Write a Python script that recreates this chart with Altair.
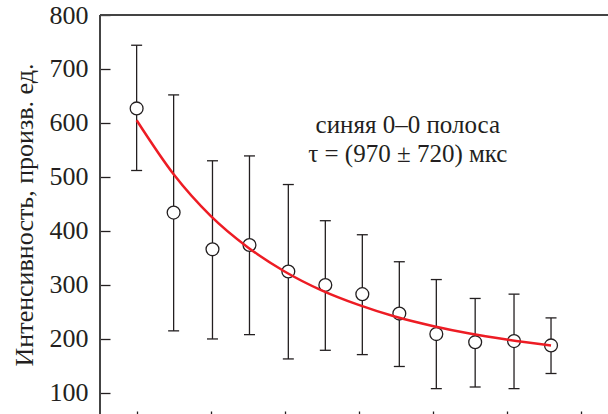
import altair as alt
import pandas as pd

# data
x_vals = [0, 100, 205, 305, 410, 510, 610, 710, 810, 915, 1020, 1120]
y_vals = [627, 434, 366, 374, 325, 300, 283, 247, 209, 194, 196, 188]
y_hi = [744, 652, 530, 539, 486, 419, 393, 343, 310, 275, 283, 239]
y_lo = [512, 215, 200, 208, 163, 179, 171, 149, 108, 111, 108, 136]

fit_t = [0, 100, 200, 300, 400, 500, 600, 700, 800, 900, 1000, 1120]
fit_v = [605, 505, 428, 370, 325, 290, 263, 241, 224, 210, 199, 188]

y_ticks = [100, 200, 300, 400, 500, 600, 700, 800]
x_ticks = [0, 200, 400, 600, 800, 1000, 1200]

note_lines = ["синяя 0–0 полоса", "τ = (970 ± 720) мкс"]
note_x = [733, 733]
note_y = [581, 528]

FONT = "Liberation Serif"
INK = "#231f20"

pts = pd.DataFrame({"x": x_vals, "y": y_vals, "lo": y_lo, "hi": y_hi})
caps = pd.DataFrame({"x": x_vals + x_vals, "y": y_lo + y_hi})
fit = pd.DataFrame({"x": fit_t, "y": fit_v})
notes = pd.DataFrame({"x": note_x, "y": note_y, "label": note_lines})

W, H = 508, 399

xs = alt.Scale(domain=[-99, 1274], nice=False, zero=False)
ys = alt.Scale(domain=[61, 800], nice=False, zero=False)

x_axis = alt.Axis(values=x_ticks, offset=-3, domain=False, labels=False,
                  tickSize=10, tickWidth=1.3, tickColor=INK, grid=False, title=None)
y_axis = alt.Axis(values=y_ticks, offset=-10, domain=False, tickSize=10,
                  tickWidth=1.3, tickColor=INK, grid=False,
                  labelFont=FONT, labelFontSize=26, labelColor=INK, labelPadding=12,
                  title="Интенсивность, произв. ед.", titleFont=FONT,
                  titleFontSize=26, titleFontWeight="normal", titleColor=INK,
                  titlePadding=12)


def X(field="x"):
    return alt.X(f"{field}:Q", scale=xs, axis=x_axis)


def Y(field="y"):
    return alt.Y(f"{field}:Q", scale=ys, axis=y_axis)


bars = alt.Chart(pts).mark_rule(color=INK, strokeWidth=1.3).encode(
    x=X(), y=Y("lo"), y2="hi")
cap_marks = alt.Chart(caps).mark_tick(orient="horizontal", size=11, thickness=1.3,
                                      color=INK, opacity=1).encode(x=X(), y=Y())
circles = alt.Chart(pts).mark_point(shape="circle", filled=True, fill="white",
                                    stroke=INK, strokeWidth=1.3, size=165,
                                    opacity=1).encode(x=X(), y=Y())
curve = alt.Chart(fit).mark_line(color="#ed1c24", strokeWidth=2.5,
                                 interpolate="monotone").encode(x=X(), y=Y())
text = alt.Chart(notes).mark_text(font=FONT, fontSize=25, color=INK,
                                  align="center", baseline="alphabetic").encode(
    x=X(), y=Y(), text="label:N")

top_line = alt.Chart(pts).mark_rule(color="#444", strokeWidth=1.6).encode(
    x=alt.value(0), x2=alt.value(W), y=alt.value(0))
left_line = alt.Chart(pts).mark_rule(color="#444", strokeWidth=1.5).encode(
    x=alt.value(0), y=alt.value(0), y2=alt.value(H))

chart = alt.layer(bars, cap_marks, circles, curve, text, top_line, left_line).properties(
    width=W, height=H,
    autosize=alt.AutoSizeParams(type="none"),
    padding={"left": 100, "top": 15, "right": 0, "bottom": 0},
    background="white",
).configure_view(stroke=None)

chart.save("out.html", embed_options={"renderer": "svg", "actions": False})
